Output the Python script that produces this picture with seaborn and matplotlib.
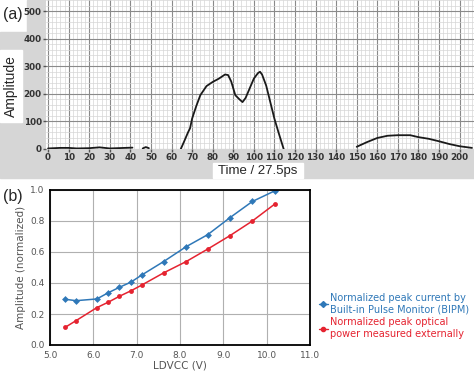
import numpy as np
import pandas as pd
import matplotlib
matplotlib.use("Agg")
import matplotlib.pyplot as plt
import seaborn as sns
from matplotlib.patches import Rectangle
from matplotlib.lines import Line2D

# (a) waveform, one trace cut into pieces where the monitor shows gaps
seg_id = [0]*9 + [1]*3 + [2]*28 + [3]*12
time_x = [0, 3, 6, 10, 14, 20, 25, 30, 41,
          46, 47.5, 49,
          64.5, 66, 68, 69, 70, 72, 74, 77, 80, 83, 86, 87.5, 89, 90, 91, 93, 94.5, 96, 98, 100, 102, 103, 104, 106, 108, 110, 112, 114.5,
          150, 155, 160, 165, 170, 176, 180, 185, 190, 195, 200, 206]
amp_y = [2, 3, 4, 4, 2, 3, 6, 2, 5,
         2, 7, 3,
         0, 25, 60, 75, 110, 155, 195, 228, 243, 255, 270, 268, 245, 220, 195, 180, 170, 185, 220, 255, 275, 280, 270, 230, 170, 110, 60, 0,
         8, 25, 40, 48, 50, 50, 43, 37, 28, 18, 10, 4]

# (b) normalized peaks vs LDVCC
ldvcc_blue = [5.35, 5.6, 6.08, 6.35, 6.6, 6.87, 7.12, 7.62, 8.14, 8.64, 9.15, 9.67, 10.19]
bipm = [0.295, 0.286, 0.297, 0.338, 0.372, 0.406, 0.452, 0.538, 0.634, 0.712, 0.821, 0.926, 0.995]
ldvcc_red = [5.35, 5.6, 6.08, 6.35, 6.6, 6.87, 7.12, 7.62, 8.14, 8.64, 9.15, 9.67, 10.19]
optical = [0.114, 0.157, 0.241, 0.277, 0.314, 0.350, 0.387, 0.465, 0.538, 0.619, 0.705, 0.80, 0.91]

lab_blue = "Normalized peak current by\nBuilt-in Pulse Monitor (BIPM)"
lab_red = "Normalized peak optical\npower measured externally"
c_blue = "#2f78b8"
c_red = "#e52330"

sns.set_style("white")
plt.rcParams['font.family'] = ['DejaVu Sans']

W, H = 474, 376
fig = plt.figure(figsize=(W/100, H/100), dpi=100)

def px(x0, y0, x1, y1):
    return [x0/W, 1 - y1/H, (x1-x0)/W, (y1-y0)/H]

# grey frame of the scope screenshot
grey = "#d6d6d6"
fig.patches.append(Rectangle((27/W, 1-32/H), 1-27/W, 32/H, transform=fig.transFigure, color=grey, zorder=-5))
fig.patches.append(Rectangle((0, 1-178/H), 1, 146/H, transform=fig.transFigure, color=grey, zorder=-5))
fig.patches.append(Rectangle((0, 1-122/H), 22/W, 72/H, transform=fig.transFigure, color="white", zorder=-4))
fig.patches.append(Rectangle((213/W, 1-178/H), 90/W, 15/H, transform=fig.transFigure, color="white", zorder=-4))

ax1 = fig.add_axes(px(46, 0, 474, 149))
ax1.set_zorder(2)
df_a = pd.DataFrame({"t": time_x, "amp": amp_y, "seg": seg_id})
sns.lineplot(data=df_a, x="t", y="amp", units="seg", estimator=None, sort=False,
             color="#1a1a1a", lw=1.3, ax=ax1, zorder=5)
ax1.set_xlim(-1, 207)
ax1.set_ylim(0, 540)
ax1.set_xticks(np.arange(0, 201, 10))
ax1.set_xticks(np.arange(0, 207, 2), minor=True)
ax1.set_yticks(np.arange(0, 501, 100))
ax1.set_yticks(np.arange(0, 541, 20), minor=True)
ax1.grid(which="major", color="#8a8a8a", lw=0.8)
ax1.grid(which="minor", color="#d6d6d6", lw=0.5)
for s in ax1.spines.values():
    s.set_visible(False)
ax1.tick_params(which="major", length=2.5, width=1, color="#555555", pad=0.5,
                labelsize=6.3, labelcolor="#333333", bottom=True, left=True)
ax1.tick_params(which="minor", length=0)
for t in ax1.get_xticklabels() + ax1.get_yticklabels():
    t.set_fontweight("bold")
ax1.set_xlabel("")
ax1.set_ylabel("")
fig.text(11/W, 1-86/H, "Amplitude", rotation=90, ha="center", va="center", fontsize=10, family="Liberation Sans")
fig.text(258/W, 1-171/H, "Time / 27.5ps", ha="center", va="center", fontsize=9.5, family="Liberation Sans")
fig.text(3/W, 1-15/H, "(a)", ha="left", va="center", fontsize=11.5, family="Liberation Sans")

# (b)
ax2 = fig.add_axes(px(50, 190, 310, 345))
sns.lineplot(x=ldvcc_blue, y=bipm, color=c_blue, marker="D", markersize=3.5,
             markeredgewidth=0, lw=1.1, ax=ax2)
sns.lineplot(x=ldvcc_red, y=optical, color=c_red, marker="o", markersize=3.5,
             markeredgewidth=0, lw=1.1, ax=ax2)
ax2.set_xlim(5, 11)
ax2.set_ylim(0, 1)
ax2.set_xticks(np.arange(5, 11.01, 1))
ax2.set_yticks(np.arange(0, 1.01, 0.2))
ax2.set_xticklabels([f"{v:.1f}" for v in np.arange(5, 11.01, 1)])
ax2.set_yticklabels([f"{v:.1f}" for v in np.arange(0, 1.01, 0.2)])
ax2.grid(True, color="#b0b0b0", lw=0.8)
for s in ax2.spines.values():
    s.set_color("black")
    s.set_linewidth(1.3)
ax2.tick_params(length=0, labelsize=6.5, labelcolor="#555555", pad=4)
ax2.set_xlabel("LDVCC (V)", fontsize=7.5, color="#555555", labelpad=1)
ax2.set_ylabel("Amplitude (normalized)", fontsize=7.5, color="#555555", labelpad=3)
fig.text(3/W, 1-197/H, "(b)", ha="left", va="center", fontsize=11.5, family="Liberation Sans")

handles = [Line2D([], [], color=c_blue, marker="D", markersize=3, lw=1),
           Line2D([], [], color=c_red, marker="o", markersize=3, lw=1)]
fig.legend(handles, [lab_blue, lab_red], loc="center left", bbox_to_anchor=(314/W, 1-316/H),
           frameon=False, fontsize=7, labelcolor=[c_blue, c_red], handlelength=0.9,
           handletextpad=0.2, borderpad=0, labelspacing=0.3)

fig.savefig("out.png", dpi=100)
